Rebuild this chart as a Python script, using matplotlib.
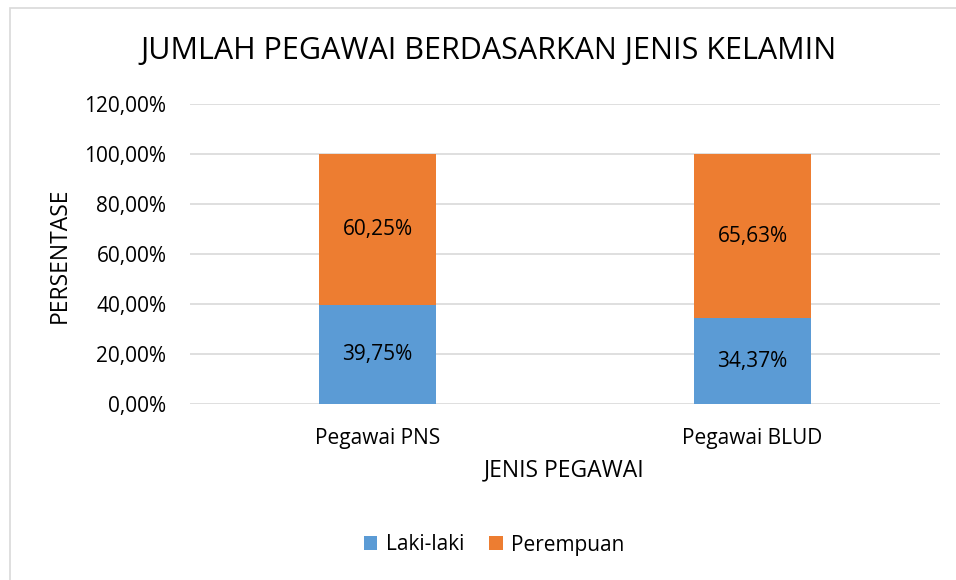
import matplotlib
matplotlib.use("Agg")
import matplotlib.pyplot as plt
from matplotlib.patches import Rectangle

categories = ["Pegawai PNS", "Pegawai BLUD"]
laki = [39.75, 34.37]
perempuan = [60.25, 65.63]
series_names = ["Laki-laki", "Perempuan"]
yticks = [0, 20, 40, 60, 80, 100, 120]

plt.rcParams['font.family'] = ['Open Sans', 'DejaVu Sans']

W, H = 956, 580
fig = plt.figure(figsize=(W/100, H/100), dpi=100)
ax = fig.add_axes([190/W, 1-404/H, 750/W, 300/H])

blue = "#5B9BD5"
orange = "#ED7D31"
x = list(range(len(categories)))
bw = 0.312
b1 = ax.bar(x, laki, width=bw, color=blue, label=series_names[0], zorder=3)
b2 = ax.bar(x, perempuan, width=bw, bottom=laki, color=orange, label=series_names[1], zorder=3)

def fmt(v):
    return f"{v:.2f}%".replace(".", ",")

for i in x:
    ax.text(i, laki[i]/2, fmt(laki[i]), ha="center", va="center", fontsize=15, color="#000000", zorder=4)
    ax.text(i, laki[i] + perempuan[i]/2, fmt(perempuan[i]), ha="center", va="center", fontsize=15, color="#000000", zorder=4)

ax.set_xlim(-0.5, 1.5)
ax.set_ylim(0, 120)
ax.set_yticks(yticks)
ax.set_yticklabels([fmt(v) for v in yticks], fontsize=15, color="#000000")
ax.set_xticks(x)
ax.set_xticklabels(categories, fontsize=15, color="#000000")
ax.tick_params(axis="both", length=0)
ax.tick_params(axis="y", pad=17)
ax.tick_params(axis="x", pad=17)
for s in ax.spines.values():
    s.set_visible(False)
ax.grid(axis="y", color="#D9D9D9", linewidth=1.2, zorder=0)
ax.set_axisbelow(True)

fig.text(60/W, 1-255/H, "PERSENTASE", rotation=90, ha="center", va="center", fontsize=16.5, color="#000000")
fig.text(564/W, 1-470/H, "JENIS PEGAWAI", ha="center", va="center", fontsize=16.5, color="#000000")
fig.text(489/W, 1-51/H, "JUMLAH PEGAWAI BERDASARKAN JENIS KELAMIN", ha="center", va="center", fontsize=22, color="#000000")

fig.legend(handles=[b1, b2], labels=series_names, loc="center", bbox_to_anchor=(494/W, 1-545/H),
           ncol=2, frameon=False, fontsize=15, handlelength=0.65, handleheight=0.65, handletextpad=0.4, columnspacing=1.2)

fig.patches.append(Rectangle((10/W, -0.1), 1.1, 1-8/H+0.1, transform=fig.transFigure,
                             fill=False, edgecolor="#D9D9D9", linewidth=1.2))

fig.savefig("out.png", dpi=100, facecolor="white")
